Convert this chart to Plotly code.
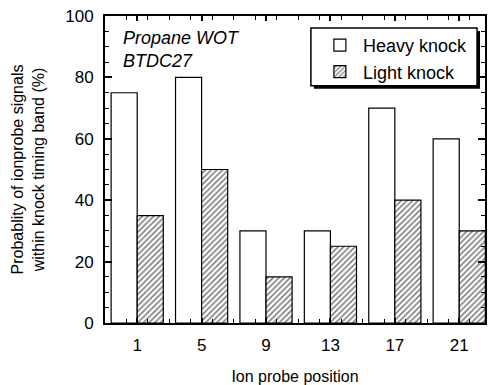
import plotly.graph_objects as go

positions = ["1", "5", "9", "13", "17", "21"]
heavy_knock = [75, 80, 30, 30, 70, 60]
light_knock = [35, 50, 15, 25, 40, 30]

idx = list(range(len(positions)))

W, H = 489, 385
ML, MR, MT, MB = 105, 2, 16, 61
pw, ph = W - ML - MR, H - MT - MB

def px(x):
    return (x - ML) / pw

def py(y):
    return 1 - (y - MT) / ph

fig = go.Figure()
fig.add_trace(go.Bar(
    x=idx, y=heavy_knock, name="Heavy knock",
    marker=dict(color="white", line=dict(color="black", width=1.2)),
))
fig.add_trace(go.Bar(
    x=idx, y=light_knock, name="Light knock",
    marker=dict(color="white", line=dict(color="black", width=1.2),
                pattern=dict(shape="/", fgcolor="black", bgcolor="white",
                             size=4, solidity=0.4)),
))

font = "Arial, Liberation Sans, Helvetica, sans-serif"

# legend frame with drop shadow
fig.add_shape(type="rect", xref="paper", yref="paper",
              x0=px(315), x1=px(482), y0=py(89), y1=py(31),
              fillcolor="black", line=dict(width=0), layer="above")
fig.add_shape(type="rect", xref="paper", yref="paper",
              x0=px(312), x1=px(479), y0=py(86), y1=py(28),
              fillcolor="white", line=dict(color="black", width=1.5), layer="above")

fig.add_annotation(
    text="<i>Propane WOT</i><br><i>BTDC27</i>", xref="paper", yref="paper",
    x=px(121), y=py(26), xanchor="left", yanchor="top", align="left",
    showarrow=False, font=dict(family=font, size=18, color="black"))

fig.update_layout(
    width=W, height=H,
    margin=dict(l=ML, r=MR, t=MT, b=MB),
    paper_bgcolor="white", plot_bgcolor="white",
    barmode="group", bargap=0.19, bargroupgap=0,
    font=dict(family=font, color="black"),
    showlegend=True,
    legend=dict(x=px(318), y=py(27), xanchor="left", yanchor="top",
                bgcolor="rgba(0,0,0,0)", borderwidth=0,
                font=dict(size=18, family=font), traceorder="normal",
                itemwidth=36, tracegroupgap=0),
    xaxis=dict(
        range=[-0.5, 5.4], tickmode="array", tickvals=idx, ticktext=positions,
        ticks="inside", ticklen=5, tickwidth=1.5, tickcolor="black",
        showline=True, linecolor="black", linewidth=1.8, mirror="ticks",
        showgrid=False, zeroline=False,
        tickfont=dict(size=17), ticklabelstandoff=6,
        minor=dict(ticks="inside", ticklen=4, tickwidth=1.2, tickcolor="black",
                   tick0=-0.5, dtick=1/3),
        title=dict(text="Ion probe position", font=dict(size=16), standoff=17),
    ),
    yaxis=dict(
        range=[0, 100], tickmode="linear", tick0=0, dtick=20,
        ticks="inside", ticklen=7, tickwidth=1.5, tickcolor="black",
        showline=True, linecolor="black", linewidth=1.8, mirror="ticks",
        showgrid=False, zeroline=False,
        tickfont=dict(size=17), ticklabelstandoff=6,
        minor=dict(ticks="inside", ticklen=4, tickwidth=1.2, tickcolor="black",
                   dtick=5),
        title=dict(text="Probablity of ionprobe signals<br>within knock timing band (%)",
                   font=dict(size=16), standoff=17),
    ),
)

fig.write_html("out.html")
